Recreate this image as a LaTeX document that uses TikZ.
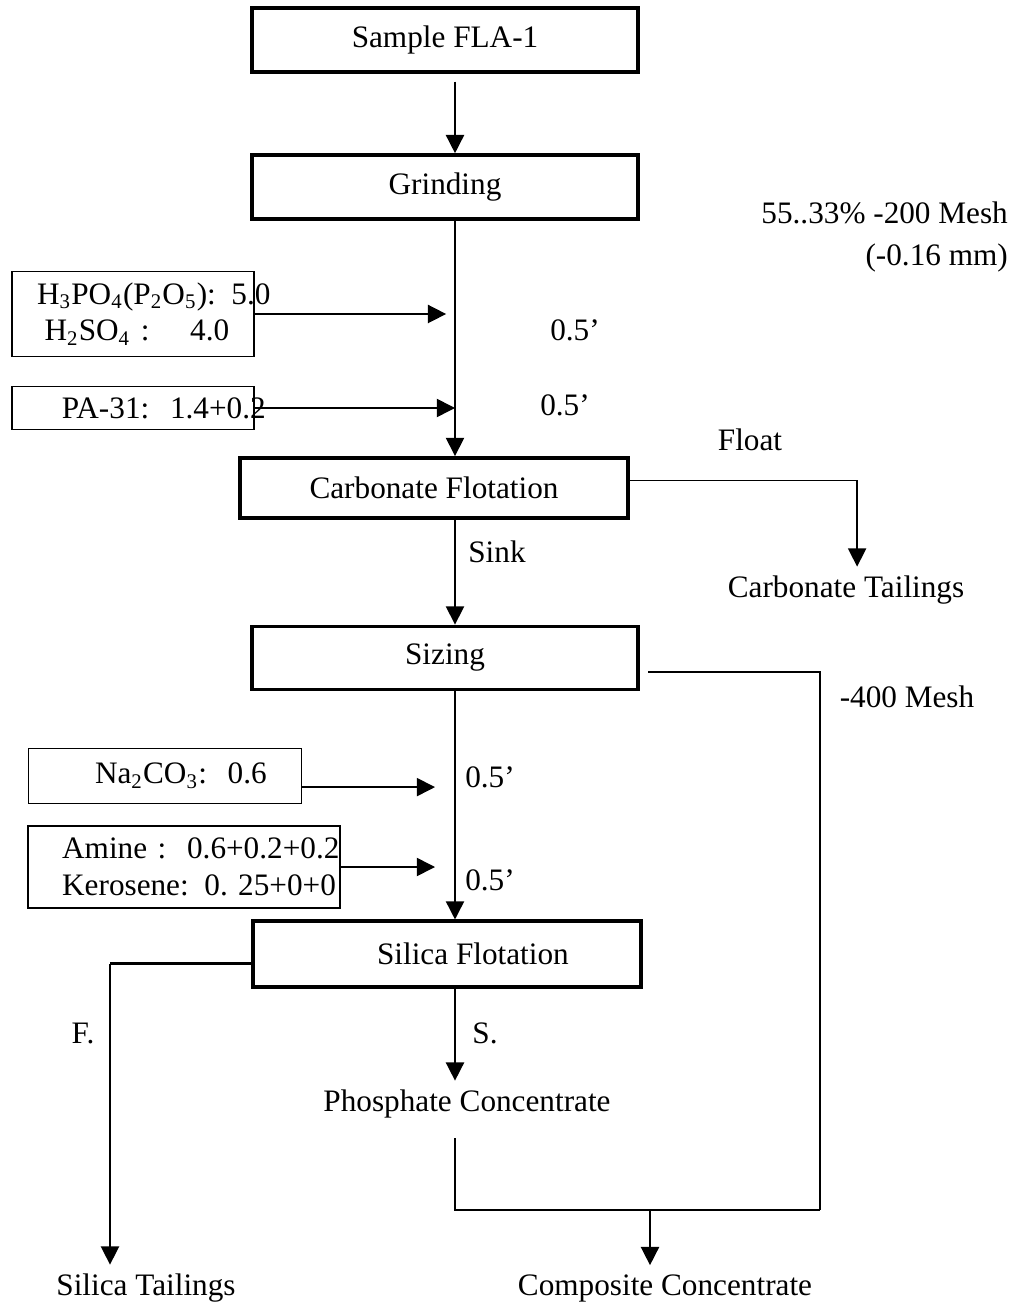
\documentclass[tikz,border=0pt]{standalone}
\usepackage{fontspec}
\setmainfont{Liberation Serif}
\usepackage{tikz}
\usetikzlibrary{arrows.meta}

\begin{document}
\begin{tikzpicture}[x=0.0135cm, y=-0.0135cm,
  every node/.style={font=\fontsize{12pt}{14pt}\selectfont},
  stage/.style={draw, line width=1.5pt, minimum width=5.22cm, minimum height=0.86cm},
  reagent/.style={draw, line width=0.6pt, align=left},
  flow/.style={-{Triangle[length=7pt,width=7pt]}, line width=0.6pt},
  pipe/.style={line width=0.6pt}]
  \useasboundingbox (0,0) rectangle (1024,1307);
  \coordinate (main) at (455,0);
  \coordinate (sideL) at (110,0);

  % main stages
  \node[stage] (sample) at (445,40) {Sample FLA-1};
  \node[stage] (grinding) at (445,187) {Grinding};
  \node[stage, minimum width=5.24cm, minimum height=0.81cm] (carbonate) at (434,488) {Carbonate Flotation};
  \node[stage, minimum height=0.85cm] (sizing) at (445,658) {Sizing};
  \node[stage, minimum width=5.24cm, minimum height=0.88cm] (silica) at (447,954) {\hspace*{0.7cm}Silica Flotation};

  % reagents
  \node[reagent, text width=2.59cm, inner xsep=0.34cm, minimum height=1.15cm] (acid) at (133,314)
    {\mbox{H\textsubscript{3}PO\textsubscript{4}(P\textsubscript{2}O\textsubscript{5}): 5.0}\\
     \mbox{\hspace*{0.1cm}H\textsubscript{2}SO\textsubscript{4} :\hspace{0.55cm}4.0}};
  \node[reagent, text width=1.92cm, inner xsep=0.675cm, minimum height=0.58cm] (pa) at (133,408)
    {\mbox{PA-31:\ \ 1.4+0.2}};
  \node[reagent, text width=1.89cm, inner xsep=0.9cm, minimum height=0.74cm] (soda) at (165,776)
    {\mbox{Na\textsubscript{2}CO\textsubscript{3}:\ \ 0.6}};
  \node[reagent, text width=3.29cm, inner xsep=0.46cm, minimum height=1.11cm] (amine) at (184,867)
    {\mbox{Amine :\ \ 0.6+0.2+0.2}\\ \mbox{Kerosene: 0.\ 25+0+0}};

  % products and notes
  \node (mesh200) [align=right, anchor=east] at (1017,237) {55..33\% -200 Mesh\\[2pt] (-0.16 mm)};
  \node (t1) at (575,330) {0.5’};
  \node (t2) at (565,405) {0.5’};
  \node (float) at (750,440) {Float};
  \node (sink) at (497,552) {Sink};
  \node (carbtail) at (846,590) {Carbonate Tailings};
  \node (mesh400) at (907,697) {-400 Mesh};
  \node (t3) at (490,777) {0.5’};
  \node (t4) at (490,880) {0.5’};
  \node (fl) at (83,1033) {F.};
  \node (sk) at (485,1033) {S.};
  \node (phos) at (467,1104) {Phosphate Concentrate};
  \node (silicatail) at (146,1288) {Silica Tailings};
  \node (composite) at (665,1288) {Composite Concentrate};

  % flow lines
  \draw[flow, shorten <=3pt] (sample.south -| main) -- (grinding.north -| main);
  \draw[flow] (grinding.south -| main) -- (carbonate.north -| main);
  \draw[flow, shorten >=0.12cm] (acid.east) -- (acid.east -| main);
  \draw[flow] (pa.east) -- (pa.east -| main);
  \draw[flow] ([yshift=0.1cm]carbonate.east) -| ([xshift=0.15cm]carbtail.north);
  \draw[flow] (carbonate.south -| main) -- (sizing.north -| main);
  \draw[flow] (sizing.south -| main) -- (silica.north -| main);
  \path ([yshift=-0.15cm]soda.east) coordinate (sodaout);
  \draw[flow, shorten >=0.27cm] (sodaout) -- (sodaout -| main);
  \draw[flow, shorten >=0.27cm] (amine.east) -- (amine.east -| main);
  \draw[flow] (silica.south -| main) -- (phos.north -| main);
  \path ([yshift=-0.13cm]silica.west) coordinate (silout);
  \draw[line width=1.2pt] (silout) -- (silout -| sideL);
  \draw[flow] (silout -| sideL) -- (sideL |- silicatail.north);

  % -400 mesh bypass
  \coordinate (join) at (820,1210);
  \coordinate (merge) at (650,1210);
  \draw[pipe] ([xshift=0.11cm,yshift=-0.19cm]sizing.east) -| (join);
  \draw[pipe, shorten <=0.15cm] (phos.south -| main) |- (join);
  \draw[flow] (merge) -- (merge |- composite.north);
\end{tikzpicture}
\end{document}
